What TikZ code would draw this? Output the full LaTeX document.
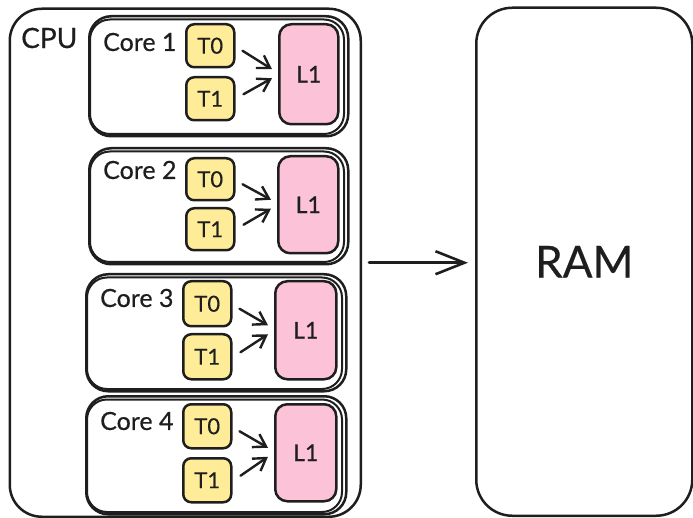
\documentclass[tikz,border=0pt]{standalone}
\usepackage{fontspec}
\setmainfont{Lato}[FakeBold=0.5]
\usetikzlibrary{arrows.meta,calc}
\definecolor{ink}{HTML}{1E1E1E}
\definecolor{thread}{HTML}{FFEC99}
\definecolor{cache}{HTML}{FCC2D7}

\begin{document}
\begin{tikzpicture}[x=1pt,y=-1pt,line join=round,line cap=round,
  box/.style={draw=ink,line width=2.5pt,inner sep=0pt,anchor=north west,
    text=ink},
  outerbox/.style={box,rounded corners=32pt},
  corebox/.style={box,rounded corners=22pt},
  coreline/.style={draw=ink,line width=2pt,rounded corners=20pt},
  threadbox/.style={box,fill=thread,rounded corners=8pt,
    font=\fontsize{22}{22}\selectfont},
  cachebox/.style={box,fill=cache,rounded corners=12pt,
    font=\fontsize{23}{23}\selectfont},
  label/.style={anchor=west,inner sep=0pt,text=ink},
  arr/.style={draw=ink,line width=2.4pt,
    -{Straight Barb[length=12pt,width=15pt,line width=2.4pt]}},
  bigarr/.style={draw=ink,line width=2.6pt,
    -{Straight Barb[length=29pt,width=23pt,line width=2.6pt]}},
]
\useasboundingbox (0,0) rectangle (693,518);

% processor and memory
\node[outerbox,minimum width=351pt,minimum height=508pt] (cpu) at (8.5,7.5) {};
\node[label,font=\fontsize{28}{28}\selectfont] (cputxt) at (21,38) {CPU};
\node[outerbox,rounded corners=36pt,minimum width=216pt,minimum height=508pt,
  font=\fontsize{44}{44}\selectfont] (ram) at (475,6.5) {RAM};

% cores: index / box x,y,w,h / label y / thread x, T0 y, T1 y, heights / cache x,y,w,h
\foreach \n/\bx/\by/\bw/\bh/\ly/\tx/\ta/\tb/\th/\cx/\cy/\cw/\ch in {
  1/88/15/259/120/42/185/23/76/43/278/23/59/100,
  2/88/147/259/116/170/185/157/207/42/277/155/60/97,
  3/85/273/260/117/298/182/280/333/45/274/280/61/98,
  4/85/395/260/118/421/182/403/457/44/274/403/61/97} {
  \node[corebox,minimum width=\bw pt,minimum height=\bh pt] (core\n) at (\bx,\by) {};
  \draw[coreline] ($(core\n.north west)+(2,4.5)$) rectangle ($(core\n.south east)+(-5.5,-3.5)$);
  \node[label,font=\fontsize{25}{25}\selectfont] (name\n) at (\bx+15,\ly) {Core \n};
  \node[threadbox,minimum width=48pt,minimum height=\th pt] (ta\n) at (\tx,\ta) {T0};
  \node[threadbox,minimum width=48pt,minimum height=\th pt] (tb\n) at (\tx,\tb) {T1};
  \node[cachebox,minimum width=\cw pt,minimum height=\ch pt] (l\n) at (\cx,\cy) {L1};
  \draw[arr] ($(ta\n.east)+(7,5)$) -- ($(l\n.west)+(-6,-5)$);
  \draw[arr] ($(tb\n.east)+(8,-4.5)$) -- ($(l\n.west)+(-6,4)$);
}

% bus to memory
\draw[bigarr] ($(cpu.east)+(7,0)$) -- ($(cpu.east -| ram.west)+(-7,0)$);
\end{tikzpicture}
\end{document}
